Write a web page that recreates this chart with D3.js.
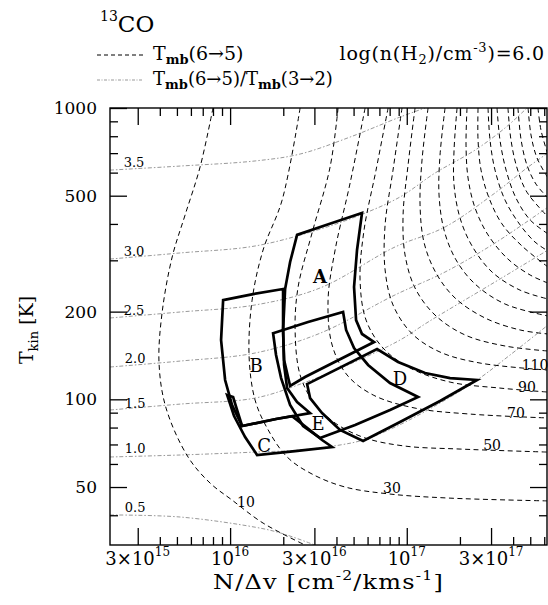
<!DOCTYPE html>
<html><head><meta charset="utf-8">
<script src="https://cdn.jsdelivr.net/npm/d3@7"></script>
<style>
body{margin:0;background:#fff}
svg{display:block}
text{font-family:"DejaVu Serif",serif;fill:#000}
</style>
</head><body>
<svg id="chart" width="548" height="605"></svg>
<script>
// ---------- DATA (N/Δv in units of 1e16 cm^-2/(km/s), T_kin in K) ----------
// T_mb(6→5) contours (dashed)
const tmb10  = [[0.80,1000],[0.676,627],[0.556,429],[0.470,308],[0.412,198],[0.396,133],[0.434,93.3],[0.578,63.4],[0.770,51.6],[1.026,45.1],[1.537,37.6],[2.66,31.6]];
const tmb30  = [[2.49,1000],[1.97,483],[1.537,325.5],[1.332,219],[1.281,139.7],[1.385,99.4],[1.62,79.7],[2.102,63.4],[2.911,55.4],[4.475,50.0],[8.04,47.3],[17.58,45.8],[63,44.8]];
const tmb50  = [[4.085,1000],[3.68,627],[2.911,372.6],[2.426,243],[2.333,173],[2.49,121.2],[2.988,97.1],[3.93,82.9],[5.81,73.7],[9.78,69.1],[20.03,67.5],[63,65.9]];
const tmb70  = [[5.81,1000],[4.78,553],[3.93,325.5],[3.585,219],[3.78,153.6],[4.594,121.2],[6.45,103.5],[11.14,93.3],[22.8,89.0],[63,86.3]];
const tmb90  = [[7.84,1000],[6.70,612],[5.73,381],[5.44,257],[5.885,187],[7.34,150],[10.44,128.1],[17.58,114.6],[33.7,109.3],[63,105.9]];
const tmb110 = [[9.40,1000],[8.36,612],[7.54,397],[7.54,278],[8.36,210.8],[10.71,168],[15.43,145.3],[26.0,133.2],[63,126]];
const tmb130 = [[11.14,1000],[10.17,637],[9.53,429],[9.78,313],[11.14,241],[14.45,194.7],[21.38,166.3],[36.0,152.4],[63,146.5]];
const tmb150 = [[13.2,1000],[12.2,663],[11.89,465],[12.53,345],[14.64,271.4],[18.76,222.8],[27.73,190.2],[43.8,173],[63,167.6]];
const tmb170 = [[16.47,1000],[15.43,690],[15.23,503],[16.26,381],[19.01,301],[24.35,248.8],[36.0,212.4],[63,193.2]];
const tmb190 = [[19.26,1000],[18.52,717],[18.52,544],[20.03,419],[23.42,336],[30.39,273.5],[43.8,237],[63,221]];
const tmb210 = [[21.93,1000],[21.65,746],[22.23,575],[24.35,454],[28.84,366.8],[37.4,303],[49.9,267.2],[63,250.6]];
const tmb230 = [[25.32,1000],[25.32,776],[26.33,612],[29.22,491],[34.6,400],[44.9,336],[63,284.6]];
const tmb250 = [[28.84,1000],[29.6,776],[31.6,612],[36.0,483],[43.8,397],[53.2,346.7],[63,323]];
const tmb270 = [[32.43,1000],[33.7,776],[36.5,612],[41.5,491],[49.9,413],[63,369.7]];
const tmb290 = [[37.4,1000],[38.9,776],[42.1,622],[47.9,514],[63,423]];
const tmb310 = [[42.6,1000],[44.4,776],[47.9,637],[53.9,548],[63,491]];
const tmb330 = [[48.6,1000],[50.5,808],[54.6,674],[63,575]];
const tmb350 = [[55.3,1000],[57.5,840],[63,690]];
const tmbContours = [tmb10,tmb30,tmb50,tmb70,tmb90,tmb110,tmb130,tmb150,tmb170,tmb190,tmb210,tmb230,tmb250,tmb270,tmb290,tmb310,tmb330,tmb350];
const tmbLabelText = ["10","30","50","70","90","110"];
const tmbLabelPos  = [[1.23,42.7],[8.25,47.6],[30.4,67],[41.5,86.3],[47.9,105.9],[53.2,126]];

// T_mb(6→5)/T_mb(3→2) ratio contours (grey)
const ratio05 = [[0.209,40.1],[0.521,39.45],[1.385,36.4],[1.919,34.8],[3.027,31.6]];
const ratio10 = [[0.209,63.4],[0.521,64.4],[1.385,65.9],[2.49,67.0],[4.19,69.7],[5.66,72.5],[8.58,80.3],[15.43,97.1],[25.0,116.5],[38.4,141.9],[63,179.9]];
const ratio15 = [[0.209,91.9],[0.521,96.3],[1.385,101],[2.589,113.7],[4.78,132.2],[9.16,159.8],[13.2,184.2],[29.6,246.9],[63,325.5]];
const ratio20 = [[0.209,129.1],[0.521,135.3],[1.385,144.2],[3.23,168.6],[8.58,228.2],[16.47,273.5],[31.6,344],[63,457]];
const ratio25 = [[0.209,190.2],[0.521,199.4],[1.385,210.8],[3.23,241.1],[8.58,333.4],[16.47,390.5],[31.6,511],[48.6,627],[63,701]];
const ratio30 = [[0.209,303],[0.521,318],[1.385,336],[3.107,381],[5.44,429],[9.16,495],[14.45,598],[24.35,717],[36.0,854],[47.9,1000]];
const ratio35 = [[0.209,612],[0.521,632],[1.385,658],[2.49,695],[4.78,795],[9.16,931],[12.69,1000]];
const ratioContours = [ratio05,ratio10,ratio15,ratio20,ratio25,ratio30,ratio35];
const ratioLabelText = ["0.5","1.0","1.5","2.0","2.5","3.0","3.5"];
const ratioLabelPos  = [[0.29,41.0],[0.29,65.4],[0.29,93.3],[0.29,133.2],[0.286,194.7],[0.286,310.5],[0.286,627]];

// observed regions (thick outlines)
const regionA = [[2.394,366.8],[3.634,400],[5.58,436],[5.23,325.5],[5.03,243],[5.165,187],[5.58,167.6],[6.53,157.3],[2.657,119.3],[2.186,111.1],[2.021,136.4],[1.995,173],[2.048,239.1],[2.186,296.0]];
const regionB = [[0.913,219],[1.349,229.8],[1.995,239.1],[1.995,173],[2.021,131.2],[2.102,109.3],[2.394,97.9],[2.836,89.7],[1.820,85.6],[1.169,81.0],[1.026,95.6],[0.937,116.5],[0.889,159.8]];
const regionC = [[0.962,103.5],[1.040,101.8],[1.095,91.9],[1.169,81.0],[1.820,85.6],[2.243,87.6],[2.692,80.3],[3.315,72.5],[3.78,68.6],[2.333,66.4],[1.421,64.4],[1.216,74.2],[1.053,87.6]];
const regionD = [[2.728,112.8],[6.79,148.8],[8.93,134.3],[12.69,123.1],[17.58,118.3],[25.0,116.5],[15.43,98.7],[9.16,83.6],[5.66,71.9],[4.19,78.5],[3.315,89.7],[2.836,101]];
const regionE = [[1.751,168.6],[2.763,184.2],[4.36,199.4],[4.535,173],[5.03,150],[6.04,131.2],[8.04,113.7],[11.59,101.8],[8.04,91.9],[5.10,81.6],[3.23,73.7],[2.589,81.0],[2.186,95.6],[1.944,118.3],[1.820,141.9]];
const regions = [regionA,regionB,regionC,regionD,regionE];
const regionNames = ["A","B","C","D","E"];
const regionLabelPos = [[3.23,250.6],[1.403,124.1],[1.557,65.9],[9.16,112],[3.147,78.5]];

// axes
const xMajor = [0.3,1,3,10,30];
const xMinor = [0.4,0.5,0.6,0.7,0.8,0.9,2,4,5,6,7,8,9,20,40,50,60];
const xLabelMant = ["3×","","3×","","3×"];
const xLabelExp  = ["15","16","16","17","17"];
const yMajor = [50,100,200,500,1000];
const yMinor = [40,60,70,80,90,300,400,600,700,800,900];
const yLabels = ["50","100","200","500","1000"];

// ---------- DRAW ----------
const L=110,R=547,T=108,B=545;
const svg = d3.select("#chart");
const x = d3.scaleLog().domain([0.209,62.2]).range([L,R]);
const y = d3.scaleLog().domain([31.62,1000]).range([B,T]);

svg.append("clipPath").attr("id","clip").append("rect")
  .attr("x",L).attr("y",T).attr("width",R-L).attr("height",B-T);
const plot = svg.append("g").attr("clip-path","url(#clip)");

const smooth = d3.line().x(d=>x(d[0])).y(d=>y(d[1])).curve(d3.curveCatmullRom.alpha(0.5));
const closed = d3.line().x(d=>x(d[0])).y(d=>y(d[1])).curve(d3.curveLinearClosed);

ratioContours.forEach(c=>{
  plot.append("path").attr("d",smooth(c)).attr("fill","none")
    .attr("stroke","#999").attr("stroke-width",1).attr("stroke-dasharray","4,2,1.5,2");
});
tmbContours.forEach(c=>{
  plot.append("path").attr("d",smooth(c)).attr("fill","none")
    .attr("stroke","#000").attr("stroke-width",1).attr("stroke-dasharray","5,3.5");
});
regions.forEach(r=>{
  plot.append("path").attr("d",closed(r)).attr("fill","none")
    .attr("stroke","#000").attr("stroke-width",2.7).attr("stroke-linejoin","miter");
});

// labels
tmbLabelText.forEach((t,i)=>{
  svg.append("text").attr("x",x(tmbLabelPos[i][0])).attr("y",y(tmbLabelPos[i][1]))
    .attr("text-anchor","middle").attr("font-size",14).text(t);
});
ratioLabelText.forEach((t,i)=>{
  svg.append("text").attr("x",x(ratioLabelPos[i][0])).attr("y",y(ratioLabelPos[i][1]))
    .attr("text-anchor","middle").attr("font-size",13).text(t);
});
regionNames.forEach((t,i)=>{
  svg.append("text").attr("x",x(regionLabelPos[i][0])).attr("y",y(regionLabelPos[i][1]))
    .attr("text-anchor","middle").attr("font-size",18)
    .attr("font-weight", t==="A"?"bold":"normal").text(t);
});

// frame
svg.append("rect").attr("x",L).attr("y",T).attr("width",R-L).attr("height",B-T)
  .attr("fill","none").attr("stroke","#000").attr("stroke-width",1.4);

function ticks(axisFn, vals, size, tr){
  const g = svg.append("g").attr("transform",tr)
    .call(axisFn.tickValues(vals).tickSizeInner(-size).tickSizeOuter(0).tickFormat(""));
  g.select(".domain").remove();
  g.selectAll("line").attr("stroke","#000").attr("stroke-width",1.3);
}
ticks(d3.axisBottom(x), xMajor, 17, `translate(0,${B})`);
ticks(d3.axisBottom(x), xMinor, 8, `translate(0,${B})`);
ticks(d3.axisTop(x), xMajor, 17, `translate(0,${T})`);
ticks(d3.axisTop(x), xMinor, 8, `translate(0,${T})`);
ticks(d3.axisLeft(y), yMajor, 17, `translate(${L},0)`);
ticks(d3.axisLeft(y), yMinor, 8, `translate(${L},0)`);
ticks(d3.axisRight(y), yMajor, 17, `translate(${R},0)`);
ticks(d3.axisRight(y), yMinor, 8, `translate(${R},0)`);

// tick labels
xMajor.forEach((v,i)=>{
  const t = svg.append("text").attr("x",x(v)).attr("y",565).attr("text-anchor","middle").attr("font-size",18);
  t.append("tspan").text(xLabelMant[i]+"10");
  t.append("tspan").attr("dy",-9).attr("font-size",12).text(xLabelExp[i]);
});
yMajor.forEach((v,i)=>{
  svg.append("text").attr("x",97).attr("y",y(v)+6).attr("text-anchor","end").attr("font-size",17).text(yLabels[i]);
});

// axis titles
const xt = svg.append("text").attr("transform",`translate(${(L+R)/2},589) scale(1.2,1)`)
  .attr("text-anchor","middle").attr("font-size",20).attr("letter-spacing",1);
xt.append("tspan").text("N/Δv [cm");
xt.append("tspan").attr("dy",-9).attr("font-size",13).text("-2");
xt.append("tspan").attr("dy",9).text("/kms");
xt.append("tspan").attr("dy",-9).attr("font-size",13).text("-1");
xt.append("tspan").attr("dy",9).text("]");

const yt = svg.append("text").attr("transform","translate(33,330) rotate(-90)").attr("text-anchor","middle").attr("font-size",19);
yt.append("tspan").text("T");
yt.append("tspan").attr("dy",5).attr("font-size",13).text("kin");
yt.append("tspan").attr("dy",-5).text(" [K]");

// title and legend
const ti = svg.append("text").attr("x",100).attr("y",32).attr("font-size",23);
ti.append("tspan").attr("dy",-11).attr("font-size",14).text("13");
ti.append("tspan").attr("dy",11).text("CO");

svg.append("line").attr("x1",97).attr("x2",143).attr("y1",55).attr("y2",55)
  .attr("stroke","#000").attr("stroke-width",1).attr("stroke-dasharray","4,3");
svg.append("line").attr("x1",97).attr("x2",143).attr("y1",80).attr("y2",80)
  .attr("stroke","#999").attr("stroke-width",1).attr("stroke-dasharray","3,1.5,1,1.5");

function tmbTxt(sel){
  sel.append("tspan").text("T");
  sel.append("tspan").attr("dy",4).attr("font-size",13).attr("font-weight","bold").text("mb");
}
const l1 = svg.append("text").attr("x",153).attr("y",60).attr("font-size",19);
tmbTxt(l1);
l1.append("tspan").attr("dy",-4).text("(6→5)");
const l2 = svg.append("text").attr("x",153).attr("y",85).attr("font-size",18);
tmbTxt(l2);
l2.append("tspan").attr("dy",-4).text("(6→5)/");
tmbTxt(l2);
l2.append("tspan").attr("dy",-4).text("(3→2)");

const lg = svg.append("text").attr("x",545).attr("y",60).attr("text-anchor","end")
  .attr("font-size",19).attr("letter-spacing",0.8);
lg.append("tspan").text("log(n(H");
lg.append("tspan").attr("dy",4).attr("font-size",13).text("2");
lg.append("tspan").attr("dy",-4).text(")/cm");
lg.append("tspan").attr("dy",-8).attr("font-size",13).text("-3");
lg.append("tspan").attr("dy",8).text(")=6.0");
</script>
</body></html>
